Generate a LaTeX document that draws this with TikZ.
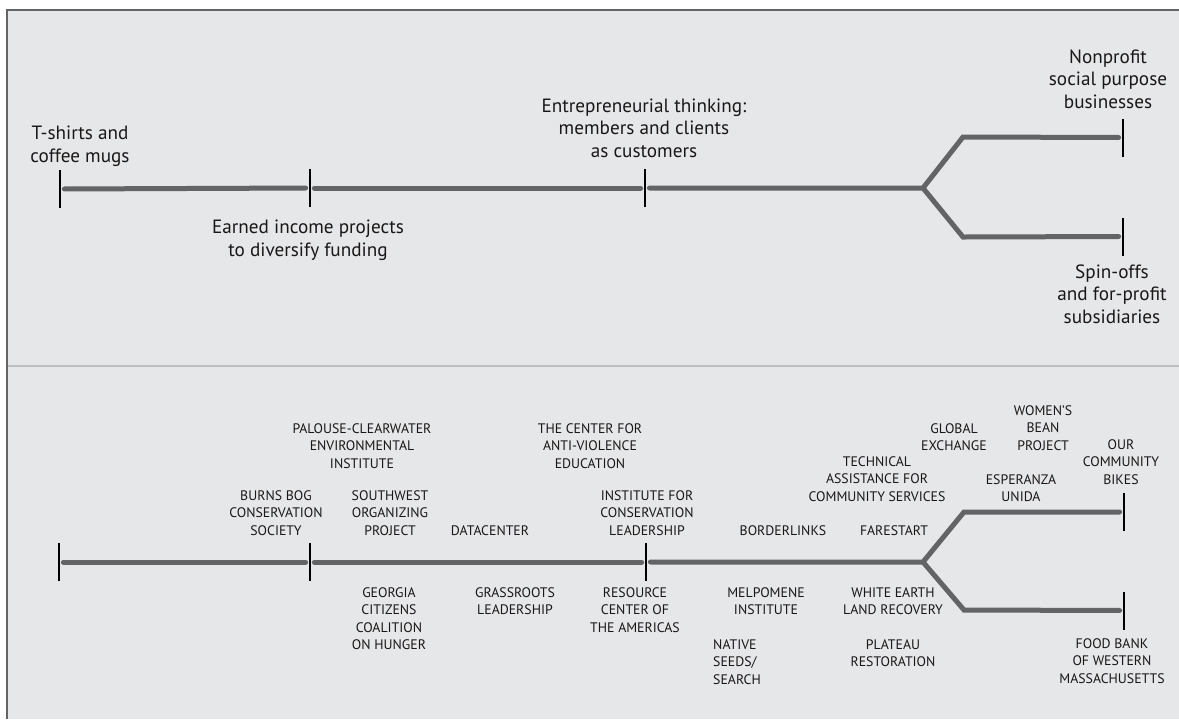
\documentclass[tikz,border=0pt]{standalone}
\usepackage{fontspec}
\setmainfont{PT Sans}
\usepackage{tikz}
\usetikzlibrary{positioning}
\definecolor{panelgray}{HTML}{E6E7E8}
\definecolor{linegray}{HTML}{636466}
\definecolor{rulegray}{HTML}{BCBEC0}
\definecolor{inkgray}{HTML}{1A1718}

\begin{document}
\begin{tikzpicture}[
    x=0.5pt, y=-0.5pt,
    font=\fontsize{9.6}{11.25}\selectfont, text=inkgray,
    stagelabel/.style={align=center, inner sep=0pt},
    orglabel/.style={align=center, inner sep=0pt, font=\fontsize{6.9}{8.75}\selectfont},
    tick/.style={fill=black, inner sep=0pt, minimum width=1.2pt, minimum height=19pt, outer sep=1.6pt},
    tline/.style={draw=linegray, line width=2.5pt, line cap=round}
]
\useasboundingbox (0,0) rectangle (1179,719);

\fill[panelgray] (7,10) rectangle (1179,719);
\draw[linegray, line width=1pt] (7,719) -- (7,10) -- (1179,10);
\draw[rulegray, line width=1.2pt] (8,366) -- (1179,366);

% stages
\node[tick] (t1) at (60,189) {};
\node[tick] (t2) at (310,188) {};
\node[tick] (t3) at (645,188) {};
\node[tick] (tup) at (1123,137.5) {};
\node[tick] (tdn) at (1123,236.5) {};
\coordinate (tfork) at (923,188);
\coordinate (tbendup) at (963,137);
\coordinate (tbenddn) at (963,237);

\draw[tline] (t1) -- (t2);
\draw[tline] (t2) -- (t3);
\draw[tline] (t3) -- (tfork) -- (tbendup) -- (tup);
\draw[tline] (tfork) -- (tbenddn) -- (tdn);

\node[stagelabel] (tshirts) at (80,146) {T-shirts and\\coffee mugs};
\node[stagelabel] (earned) at (308,240) {Earned income projects\\to diversify funding};
\node[stagelabel] (entre) at (644,128) {Entrepreneurial thinking:\\members and clients\\as customers};
\node[stagelabel] (nonprofit) at (1108,79) {Nonprofit\\social purpose\\businesses};
\node[stagelabel] (spinoffs) at (1112,294) {Spin-offs\\and for-profit\\subsidiaries};

% organizations
\node[tick] (b1) at (59,562) {};
\node[tick] (b2) at (310,562) {};
\node[tick] (b3) at (646,562) {};
\node[tick] (bup) at (1124,512) {};
\node[tick] (bdn) at (1124,610.5) {};
\coordinate (bfork) at (923,562);
\coordinate (bbendup) at (964,512);
\coordinate (bbenddn) at (964,610);

\draw[tline] (b1) -- (b2);
\draw[tline] (b2) -- (b3);
\draw[tline] (b3) -- (bfork) -- (bbendup) -- (bup);
\draw[tline] (bfork) -- (bbenddn) -- (bdn);

\node[orglabel] (burns) at (276,513) {BURNS BOG\\CONSERVATION\\SOCIETY};
\node[orglabel] (palouse) at (362,446) {PALOUSE-CLEARWATER\\ENVIRONMENTAL\\INSTITUTE};
\node[orglabel] (southwest) at (390,513) {SOUTHWEST\\ORGANIZING\\PROJECT};
\node[orglabel] (datacenter) at (490,531) {DATACENTER};
\node[orglabel] (georgia) at (389,618.5) {GEORGIA\\CITIZENS\\COALITION\\ON HUNGER};
\node[orglabel] (grassroots) at (515,601) {GRASSROOTS\\LEADERSHIP};
\node[orglabel] (antiviolence) at (590,446) {THE CENTER FOR\\ANTI-VIOLENCE\\EDUCATION};
\node[orglabel] (icl) at (647,513) {INSTITUTE FOR\\CONSERVATION\\LEADERSHIP};
\node[orglabel] (resource) at (635,610) {RESOURCE\\CENTER OF\\THE AMERICAS};
\node[orglabel] (borderlinks) at (783,531) {BORDERLINKS};
\node[orglabel] (melpomene) at (766,601) {MELPOMENE\\INSTITUTE};
\node[orglabel, align=left] (nativeseeds) at (737,662) {NATIVE\\SEEDS/\\SEARCH};
\node[orglabel] (farestart) at (894,531) {FARESTART};
\node[orglabel] (whiteearth) at (893,601) {WHITE EARTH\\LAND RECOVERY};
\node[orglabel] (plateau) at (893,653) {PLATEAU\\RESTORATION};
\node[orglabel] (technical) at (877,479) {TECHNICAL\\ASSISTANCE FOR\\COMMUNITY SERVICES};
\node[orglabel] (global) at (954,437) {GLOBAL\\EXCHANGE};
\node[orglabel] (womens) at (1043,428) {WOMEN'S\\BEAN\\PROJECT};
\node[orglabel] (esperanza) at (1021,488) {ESPERANZA\\UNIDA};
\node[orglabel] (ourbikes) at (1121,462) {OUR\\COMMUNITY\\BIKES};
\node[orglabel] (foodbank) at (1112,661) {FOOD BANK\\OF WESTERN\\MASSACHUSETTS};

\end{tikzpicture}
\end{document}
